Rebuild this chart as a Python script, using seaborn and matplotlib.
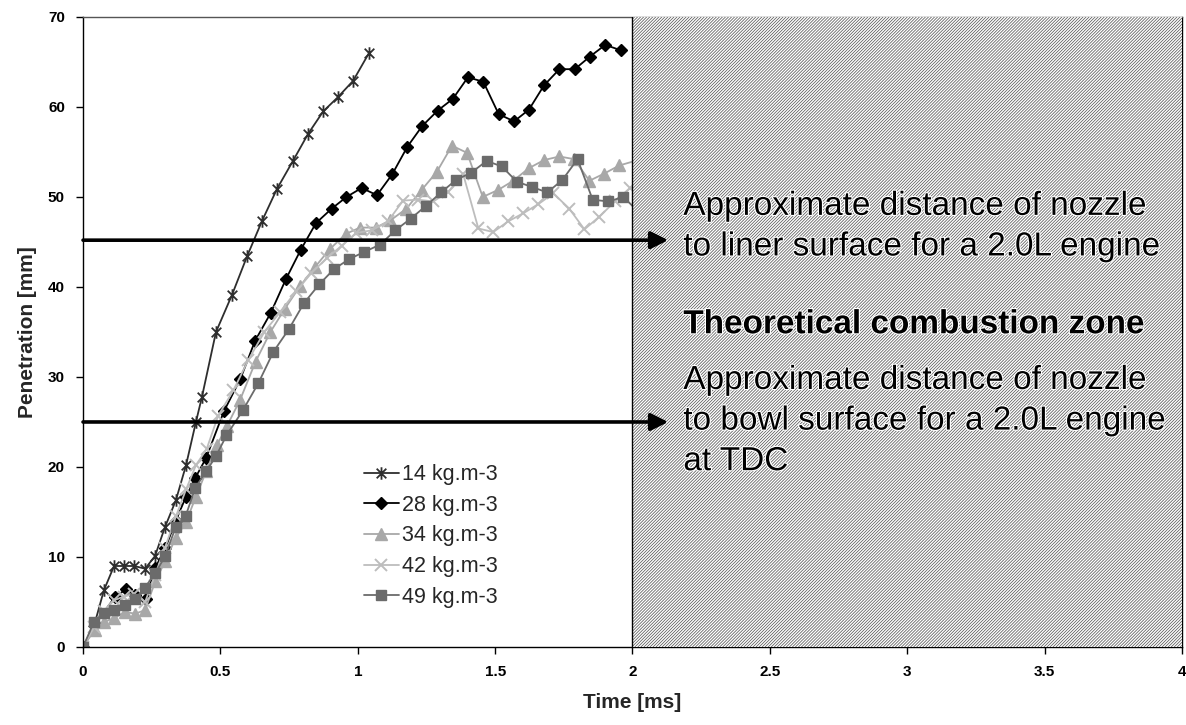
import matplotlib
matplotlib.use("Agg")
import matplotlib.pyplot as plt
import matplotlib.patheffects as pe
from matplotlib.path import Path
import pandas as pd
import seaborn as sns

# Spray tip penetration vs time, one series per ambient density.
t_14 = [0, 0.036, 0.076, 0.113, 0.149, 0.186, 0.226, 0.262, 0.298, 0.338, 0.375,
        0.411, 0.433, 0.484, 0.542, 0.597, 0.651, 0.706, 0.764, 0.819, 0.874,
        0.928, 0.983, 1.041]
pen_14 = [0, 1.9, 6.3, 9.0, 9.0, 9.0, 8.7, 10.1, 13.3, 16.3, 20.2,
          25.0, 27.8, 35.0, 39.1, 43.4, 47.3, 50.9, 54.0, 57.0, 59.5,
          61.1, 62.9, 66.0]

t_28 = [0, 0.043, 0.115, 0.155, 0.190, 0.228, 0.263, 0.300, 0.337, 0.375, 0.409,
        0.448, 0.513, 0.573, 0.626, 0.683, 0.739, 0.792, 0.848, 0.905, 0.959,
        1.014, 1.070, 1.125, 1.181, 1.235, 1.291, 1.346, 1.401, 1.457, 1.513,
        1.569, 1.623, 1.678, 1.734, 1.790, 1.845, 1.901, 1.957]
pen_28 = [0, 2.5, 5.5, 6.4, 5.8, 5.3, 8.8, 11.0, 14.0, 16.7, 18.8,
          21.0, 26.2, 29.8, 34.0, 37.1, 40.9, 44.1, 47.1, 48.7, 50.0,
          51.0, 50.2, 52.5, 55.6, 57.9, 59.6, 60.9, 63.3, 62.8, 59.2,
          58.4, 59.7, 62.4, 64.2, 64.2, 65.6, 66.9, 66.3]

t_34 = [0, 0.042, 0.078, 0.113, 0.152, 0.190, 0.226, 0.263, 0.300, 0.337, 0.375,
        0.411, 0.448, 0.487, 0.523, 0.571, 0.628, 0.682, 0.735, 0.790, 0.844,
        0.898, 0.957, 1.008, 1.066, 1.119, 1.177, 1.233, 1.288, 1.343, 1.398,
        1.455, 1.512, 1.566, 1.623, 1.678, 1.734, 1.788, 1.843, 1.897, 1.952,
        2.020]
pen_34 = [0, 1.9, 2.8, 3.2, 3.9, 3.7, 4.1, 7.3, 9.6, 12.1, 13.9,
          16.7, 19.5, 22.4, 24.5, 27.4, 31.7, 35.0, 37.6, 40.1, 42.2,
          44.2, 45.9, 46.6, 46.6, 47.4, 48.7, 50.8, 52.8, 55.7, 54.9,
          50.0, 50.8, 51.8, 53.2, 54.1, 54.5, 54.2, 51.8, 52.6, 53.5,
          54.1]

t_42 = [0, 0.040, 0.076, 0.113, 0.149, 0.186, 0.226, 0.262, 0.298, 0.338, 0.375,
        0.411, 0.450, 0.492, 0.547, 0.602, 0.660, 0.717, 0.775, 0.830, 0.887,
        0.942, 0.994, 1.052, 1.110, 1.165, 1.219, 1.275, 1.330, 1.384, 1.439,
        1.493, 1.548, 1.603, 1.657, 1.712, 1.770, 1.825, 1.879, 1.936, 1.991,
        2.045]
pen_42 = [0, 2.2, 4.0, 5.2, 5.6, 5.9, 5.0, 8.0, 11.0, 14.5, 17.5,
          20.2, 22.0, 25.7, 28.5, 31.9, 35.0, 37.2, 39.5, 41.5, 43.2,
          44.6, 46.0, 46.3, 47.3, 49.6, 49.7, 49.5, 50.6, 52.5, 46.5,
          46.1, 47.3, 48.2, 49.2, 50.4, 48.7, 46.4, 47.8, 49.5, 51.0,
          51.6]

t_49 = [0, 0.040, 0.076, 0.114, 0.152, 0.189, 0.225, 0.263, 0.299, 0.337, 0.374,
        0.409, 0.448, 0.484, 0.522, 0.582, 0.638, 0.693, 0.749, 0.804, 0.860,
        0.914, 0.969, 1.024, 1.081, 1.137, 1.193, 1.248, 1.303, 1.358, 1.413,
        1.469, 1.524, 1.579, 1.635, 1.690, 1.745, 1.800, 1.855, 1.912, 1.967,
        2.020]
pen_49 = [0, 2.8, 3.8, 4.1, 4.7, 5.3, 6.6, 8.2, 10.1, 13.3, 14.6,
          17.7, 19.5, 21.2, 23.5, 26.3, 29.3, 32.8, 35.3, 38.2, 40.3,
          42.0, 43.1, 43.9, 44.7, 46.3, 47.6, 49.0, 50.5, 51.9, 52.7,
          54.0, 53.4, 51.7, 51.1, 50.5, 51.9, 54.2, 49.7, 49.5, 50.0,
          48.4]

labels = ["14 kg.m-3", "28 kg.m-3", "34 kg.m-3", "42 kg.m-3", "49 kg.m-3"]
times = [t_14, t_28, t_34, t_42, t_49]
pens = [pen_14, pen_28, pen_34, pen_42, pen_49]

x_ticks = [0, 0.5, 1, 1.5, 2, 2.5, 3, 3.5, 4]
x_ticklabels = ["0", "0.5", "1", "1.5", "2", "2.5", "3", "3.5", "4"]
y_ticks = [0, 10, 20, 30, 40, 50, 60, 70]

liner_mm = 45.2
bowl_mm = 25.0

# Excel-style star marker: an "x" with a vertical stroke through it
STAR = Path([(-1, -1), (1, 1), (-1, 1), (1, -1), (0, -1.3), (0, 1.3)],
            [Path.MOVETO, Path.LINETO, Path.MOVETO, Path.LINETO, Path.MOVETO, Path.LINETO])

# marker / colour per series
STYLE = {
    "14 kg.m-3": dict(color="#2e2e2e", marker=STAR, ms=9, mew=1.3),
    "28 kg.m-3": dict(color="#000000", marker="D", ms=6.5, mew=1.0),
    "34 kg.m-3": dict(color="#a8a8a8", marker="^", ms=8, mew=1.0),
    "42 kg.m-3": dict(color="#bdbdbd", marker="x", ms=8, mew=1.4),
    "49 kg.m-3": dict(color="#6b6b6b", marker="s", ms=7, mew=1.0),
}

df = pd.concat(
    [pd.DataFrame({"time": t, "pen": p, "series": lab})
     for lab, t, p in zip(labels, times, pens)],
    ignore_index=True,
)

sns.set_style("ticks")
plt.rcParams["font.family"] = ["Liberation Sans", "DejaVu Sans"]
plt.rcParams["hatch.linewidth"] = 0.55

fig = plt.figure(figsize=(11.86, 7.25), dpi=100)
ax = fig.add_axes([0.07, 0.1076, 0.9266, 0.869])

for lab in labels:
    sub = df[df["series"] == lab]
    st = STYLE[lab]
    sns.lineplot(data=sub, x="time", y="pen", ax=ax, sort=False, estimator=None,
                 color=st["color"], lw=1.3, marker=st["marker"], ms=st["ms"],
                 mew=st["mew"], mec=st["color"], mfc=st["color"], label=lab,
                 zorder=2)

# theoretical combustion zone (covers the curves past 2 ms)
ax.axvspan(2, 4, facecolor="white", edgecolor="#5a5a5a", hatch="/" * 11, lw=0, zorder=3)
ax.axvline(2, color="black", lw=1.0, zorder=3.2)

halo = [pe.withStroke(linewidth=1.6, foreground="white")]
for y in (liner_mm, bowl_mm):
    ax.annotate("", xy=(2.13, y), xytext=(0, y),
                arrowprops=dict(arrowstyle="-|>", lw=2.6, color="black",
                                mutation_scale=26, shrinkA=0, shrinkB=0),
                zorder=4)

ax.text(2.185, 46.7, "Approximate distance of nozzle\nto liner surface for a 2.0L engine",
        fontsize=24, ha="left", va="center", linespacing=1.4, zorder=5,
        color="black", path_effects=halo)
ax.text(2.185, 35.8, "Theoretical combustion zone", fontsize=24, fontweight="bold",
        ha="left", va="center", zorder=5, color="black", path_effects=halo)
ax.text(2.185, 25.1, "Approximate distance of nozzle\nto bowl surface for a 2.0L engine\nat TDC",
        fontsize=24, ha="left", va="center", linespacing=1.4, zorder=5,
        color="black", path_effects=halo)

ax.set_xlim(0, 4)
ax.set_ylim(0, 70)
ax.set_xticks(x_ticks)
ax.set_xticklabels(x_ticklabels)
ax.set_yticks(y_ticks)
ax.tick_params(axis="both", direction="out", length=5, width=1, labelsize=11,
               colors="black", pad=8)
for lbl in ax.get_xticklabels() + ax.get_yticklabels():
    lbl.set_fontweight("bold")
ax.set_xlabel("Time [ms]", fontsize=15, fontweight="bold", labelpad=10)
ax.set_ylabel("Penetration [mm]", fontsize=15, fontweight="bold", labelpad=8)
for side in ["left", "bottom", "top", "right"]:
    ax.spines[side].set_color("black")
    ax.spines[side].set_linewidth(1.0)
ax.spines["top"].set_color("#555555")
ax.grid(False)

ax.legend(loc="upper left", bbox_to_anchor=(0.248, 0.304), frameon=False,
          fontsize=15.5, handlelength=1.6, handletextpad=0.15, labelspacing=0.45,
          borderaxespad=0)

fig.savefig("out.png", dpi=100)
